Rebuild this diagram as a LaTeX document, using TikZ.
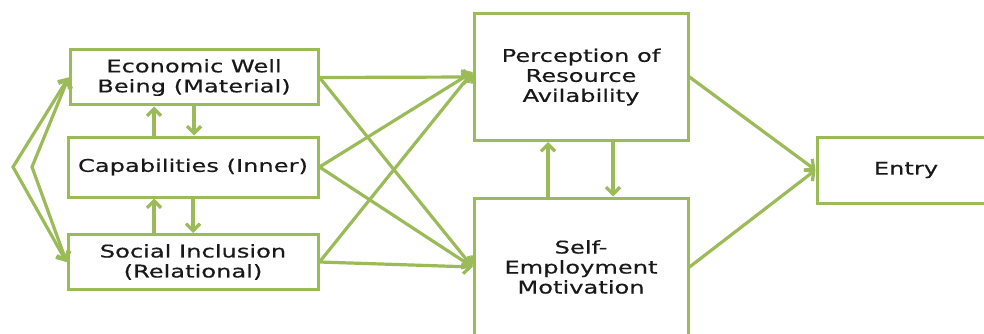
\documentclass[tikz,border=0pt]{standalone}
\usepackage{fontspec}
\setmainfont{DejaVu Sans}[FakeStretch=1.38, FakeBold=0.4]
\usetikzlibrary{arrows.meta}
\definecolor{leaf}{RGB}{155,187,89}
\tikzset{
	box/.style={draw=leaf, line width=3pt, fill=white, inner sep=0pt, align=center,
		text=black!90, font=\fontsize{17.5}{20}\selectfont},
	tip/.tip={Straight Barb[length=7pt,width=14pt]},
	link/.style={draw=leaf, line width=3.2pt, -tip},
}

\begin{document}
\begin{tikzpicture}[x=1pt, y=-1pt]
	\useasboundingbox (0,0) rectangle (984,334);
	\clip (0,0) rectangle (984,334);
	% wellbeing
	\node[box, minimum width=248pt, minimum height=55pt] (econ) at (194,77.5) {Economic Well\\Being (Material)};
	\node[box, minimum width=250pt, minimum height=60pt] (capab) at (193,167) {Capabilities (Inner)};
	\node[box, minimum width=250pt, minimum height=55pt] (social) at (193,262) {Social Inclusion\\(Relational)};
	% middle
	\node[box, minimum width=214pt, minimum height=127pt] (percep) at (581,77) {Perception of\\Resource\\Avilability};
	\node[box, minimum width=214pt, minimum height=138pt] (selfemp) at (581,267) {Self-\\Employment\\Motivation};
	% output
	\node[box, minimum width=178pt, minimum height=66pt] (entry) at (906,170) {Entry};
	\coordinate (outer) at (13,167);
	\coordinate (inner) at (32,167);
	% left bracket
	\draw[link, tip-tip] (econ.west) -- (outer) -- (social.west);
	\draw[link, tip-tip] (econ.west) -- (inner) -- (social.west);
	% up and down
	\draw[link] ([xshift=-39pt]capab.north) -- ([xshift=-40pt]econ.south);
	\draw[link] (econ.south) -- ([xshift=1pt]capab.north);
	\draw[link] ([xshift=-39pt]social.north) -- ([xshift=-39pt]capab.south);
	\draw[link] (capab.south) -- (social.north);
	\draw[link] ([xshift=-33pt]selfemp.north) -- ([xshift=-33pt]percep.south);
	\draw[link] ([xshift=32pt]percep.south) -- ([xshift=32pt]selfemp.north);
	% crossing
	\draw[link] (econ.east) -- (percep.west);
	\draw[link] (econ.east) -- (selfemp.west);
	\draw[link] (capab.east) -- ([yshift=5pt]percep.west);
	\draw[link] (capab.east) -- (selfemp.west);
	\draw[link] (social.east) -- ([yshift=5pt]percep.west);
	\draw[link] (social.east) -- (selfemp.west);
	% to entry
	\draw[link] (percep.east) -- (entry.west);
	\draw[link] (selfemp.east) -- (entry.west);
\end{tikzpicture}
\end{document}
